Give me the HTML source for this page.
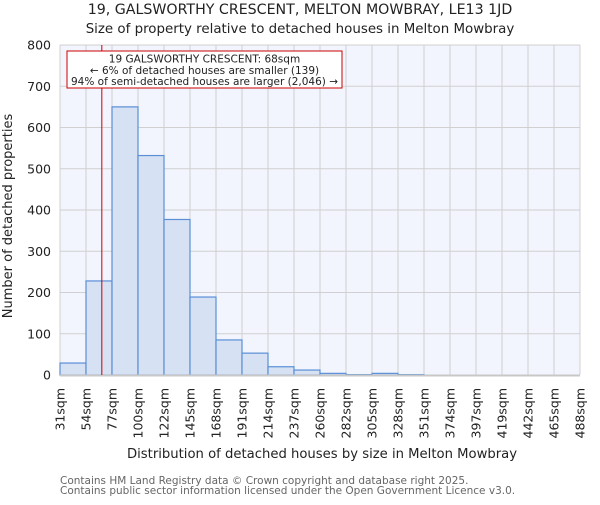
<!DOCTYPE html>
<html><head><meta charset="utf-8"><style>
body{margin:0;background:#fff;}
text{font-family:"DejaVu Sans","Liberation Sans",sans-serif;}
</style></head><body>
<svg id="chart" width="600" height="500" xmlns="http://www.w3.org/2000/svg">
<text x="300" y="14" text-anchor="middle" font-size="14.2" fill="#222">19, GALSWORTHY CRESCENT, MELTON MOWBRAY, LE13 1JD</text>
<text x="300" y="33" text-anchor="middle" font-size="13.4" fill="#222">Size of property relative to detached houses in Melton Mowbray</text>
<rect x="60" y="45" width="520" height="330" fill="#f2f5fd"/>
<g id="grid"></g>
<g id="bars"></g>
<g id="axes"></g>
<text transform="translate(12,216) rotate(-90)" text-anchor="middle" font-size="13" fill="#222">Number of detached properties</text>
<text x="322" y="458" text-anchor="middle" font-size="13.2" fill="#222">Distribution of detached houses by size in Melton Mowbray</text>
<text x="60" y="484" font-size="10.5" fill="#666">Contains HM Land Registry data © Crown copyright and database right 2025.</text>
<text x="60" y="494" font-size="10.5" fill="#666">Contains public sector information licensed under the Open Government Licence v3.0.</text>
</svg>
<script>
const binEdges=[31,54,77,100,122,145,168,191,214,237,260,282,305,328,351,374,397,419,442,465,488];
const tickLabels=["31sqm","54sqm","77sqm","100sqm","122sqm","145sqm","168sqm","191sqm","214sqm","237sqm","260sqm","282sqm","305sqm","328sqm","351sqm","374sqm","397sqm","419sqm","442sqm","465sqm","488sqm"];
const counts=[29,228,650,532,377,189,85,53,20,12,4,1,4,1,0,0,0,0,0,0];
const yTicks=[0,100,200,300,400,500,600,700,800];
const subjectSize=68;
const NS="http://www.w3.org/2000/svg";
const X0=60,X1=580,Y0=375,Y1=45;
function xIdx(i){return X0+(X1-X0)*i/(binEdges.length-1);}
function xVal(v){for(let i=0;i<binEdges.length-1;i++){if(v<=binEdges[i+1]){return xIdx(i)+(v-binEdges[i])/(binEdges[i+1]-binEdges[i])*(xIdx(i+1)-xIdx(i));}}return X1;}
function y(v){return Y0-(Y0-Y1)*v/800;}
function mk(tag,attrs,parent){const e=document.createElementNS(NS,tag);for(const k in attrs)e.setAttribute(k,attrs[k]);parent.appendChild(e);return e;}
const grid=document.getElementById('grid'),bars=document.getElementById('bars'),axes=document.getElementById('axes'),svg=document.getElementById('chart');
yTicks.forEach(t=>{const l=mk('line',{x1:X0,x2:X1,y1:y(t),y2:y(t),stroke:'#d0d0d0','stroke-width':1},grid);


const tx=mk('text',{x:X0-9,y:y(t)+4.5,'text-anchor':'end','font-size':12.5,fill:'#222'},axes);tx.textContent=t;

});
binEdges.forEach((e,i)=>{const l=mk('line',{x1:xIdx(i),x2:xIdx(i),y1:Y1,y2:Y0,stroke:'#d0d0d0','stroke-width':1},grid);


const tx=mk('text',{transform:`translate(${xIdx(i)+4.5},388) rotate(-90)`,'text-anchor':'end','font-size':12.5,fill:'#222'},axes);tx.textContent=tickLabels[i];

});
counts.forEach((c,i)=>{if(c<=0)return;const r=mk('rect',{x:xIdx(i),y:y(c),width:xIdx(i+1)-xIdx(i),height:Y0-y(c),fill:'#d6e1f4',stroke:'#5a8fd6','stroke-width':1.2},bars);

});
const ax=mk('line',{x1:X0,x2:X1,y1:Y0+0.5,y2:Y0+0.5,stroke:'#c8c8c8','stroke-width':2},axes);


const mx=xVal(subjectSize);
const ml=mk('line',{x1:mx,x2:mx,y1:Y1,y2:Y0,stroke:'#cc0000','stroke-width':1},svg);


const box=mk('rect',{x:67,y:51,width:275,height:37,fill:'#fff',stroke:'#cc0000','stroke-width':1},svg);


["19 GALSWORTHY CRESCENT: 68sqm","← 6% of detached houses are smaller (139)","94% of semi-detached houses are larger (2,046) →"].forEach((s,i)=>{const t=mk('text',{x:204.5,y:62.5+i*11.3,'text-anchor':'middle','font-size':10.5,fill:'#222'},svg);t.textContent=s;

});
</script>
</body></html>
